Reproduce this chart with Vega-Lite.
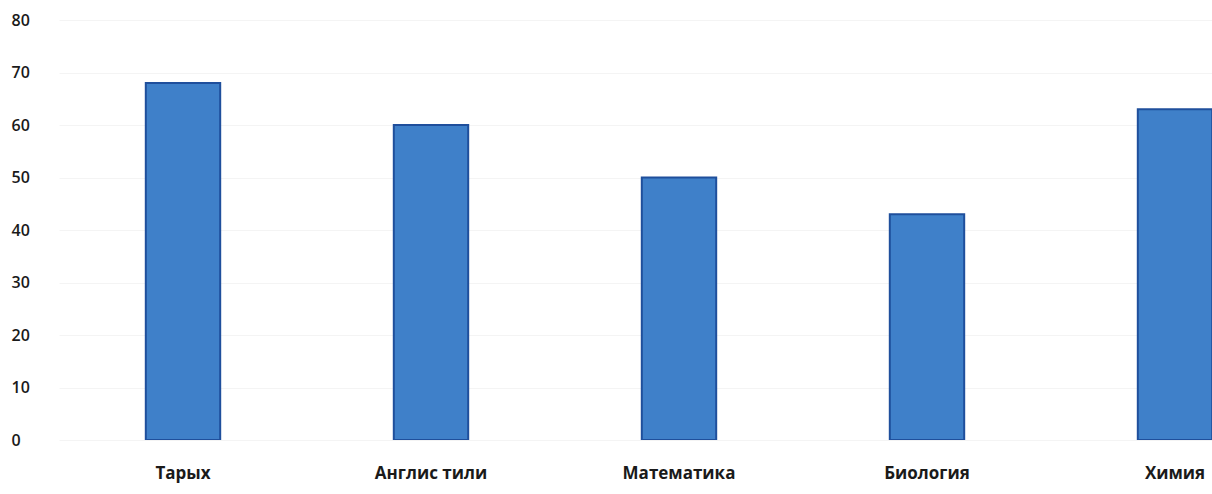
{
  "$schema": "https://vega.github.io/schema/vega-lite/v6.json",
  "autosize": {"type": "none"},
  "padding": {"left": 59, "top": 20, "right": 0, "bottom": 54},
  "width": 1153,
  "height": 420,
  "background": "#ffffff",
  "config": {"view": {"stroke": null}, "font": "Open Sans"},
  "data": {
    "values": [
      {"subject": "Тарых", "value": 68},
      {"subject": "Англис тили", "value": 60},
      {"subject": "Математика", "value": 50},
      {"subject": "Биология", "value": 43},
      {"subject": "Химия", "value": 63}
    ]
  },
  "mark": {"type": "bar", "clip": true, "fill": "#3f80c9", "stroke": "#1f4f9c", "strokeWidth": 2},
  "encoding": {
    "x": {
      "field": "subject",
      "type": "nominal",
      "sort": null,
      "scale": {"range": [0, 1240], "paddingInner": 0.7, "paddingOuter": 0.35},
      "axis": {
        "title": null,
        "labelAngle": 0,
        "domain": false,
        "ticks": false,
        "labelPadding": 25,
        "labelFontSize": 17,
        "labelFontWeight": "bold",
        "labelColor": "#1a1a1a",
        "labelOverlap": false
      }
    },
    "y": {
      "field": "value",
      "type": "quantitative",
      "scale": {"domain": [0, 80]},
      "axis": {
        "title": null,
        "values": [0, 10, 20, 30, 40, 50, 60, 70, 80],
        "domain": false,
        "ticks": false,
        "labelAlign": "left",
        "labelPadding": 48,
        "labelFontSize": 16,
        "labelFontWeight": 600,
        "labelColor": "#1a1a1a",
        "grid": true,
        "gridColor": "#f4f4f4",
        "gridWidth": 1
      }
    }
  }
}
